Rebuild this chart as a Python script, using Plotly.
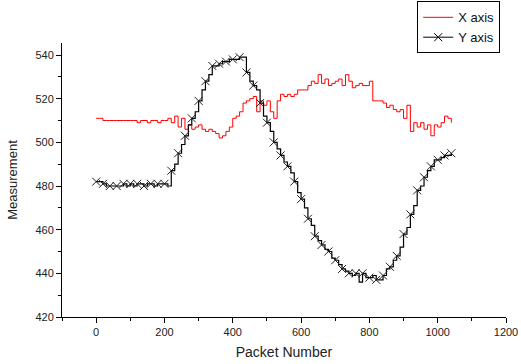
import plotly.graph_objects as go

packets = list(range(0, 1050, 10))

x_axis = [511, 511, 510, 510, 510, 510, 510, 510, 510, 510,
          510, 510, 509, 510, 510, 509, 510, 510, 509, 510,
          510, 511, 509, 512, 507, 511, 506, 508, 506, 507,
          508, 506, 505, 506, 505, 504, 502, 503, 505, 507,
          511, 512, 514, 518, 519, 520, 521, 514, 519, 517,
          519, 514, 511, 519, 522, 521, 522, 521, 522, 524,
          524, 524, 526, 528, 527, 531, 527, 529, 526, 527,
          528, 529, 526, 531, 528, 525, 526, 527, 526, 526,
          528, 519, 519, 519, 518, 516, 517, 515, 514, 515,
          511, 517, 505, 509, 507, 509, 506, 508, 503, 508,
          507, 509, 512, 511, 509]

y_axis = [482, 482, 481, 480, 480, 480, 480, 480, 481, 480,
          481, 480, 481, 481, 480, 481, 481, 480, 481, 481,
          481, 480, 487, 490, 495, 499, 503, 508, 511, 514,
          519, 524, 528, 531, 535, 535, 536, 537, 537, 538,
          538, 538, 539, 539, 532, 528, 526, 524, 518, 512,
          509, 505, 500, 497, 494, 491, 489, 486, 482, 477,
          474, 470, 465, 462, 457, 455, 453, 451, 450, 447,
          446, 444, 442, 441, 440, 439, 440, 436, 440, 438,
          438, 439, 437, 437, 439, 442, 443, 446, 448, 452,
          458, 461, 467, 471, 478, 480, 484, 487, 489, 492,
          492, 493, 494, 494, 495]

x_tick_vals = [0, 200, 400, 600, 800, 1000, 1200]
y_tick_vals = [420, 440, 460, 480, 500, 520, 540]

FONT = "Arial, Liberation Sans, sans-serif"

fig = go.Figure()

fig.add_trace(go.Scatter(
    x=packets, y=x_axis, mode="lines", line=dict(color="#ff0000", width=1, shape="hv"),
    name="X axis", showlegend=True))

fig.add_trace(go.Scatter(
    x=packets, y=y_axis, mode="lines", line=dict(color="black", width=1.2, shape="hv"),
    name="Y axis", showlegend=False))

mk_x = packets[::2]
mk_y = y_axis[::2]
fig.add_trace(go.Scatter(
    x=mk_x, y=mk_y, mode="markers",
    marker=dict(symbol="x-thin", size=8, line=dict(color="#222", width=1)),
    showlegend=False, name="Y axis"))

fig.add_trace(go.Scatter(
    x=[None], y=[None], mode="lines+markers", name="Y axis",
    line=dict(color="black", width=1),
    marker=dict(symbol="x-thin", size=8, line=dict(color="black", width=1))))

axis_common = dict(
    showline=True, linecolor="black", linewidth=1, mirror=False,
    ticks="outside", ticklen=5, tickwidth=1, tickcolor="black",
    showgrid=False, zeroline=False, automargin=False,
    tickfont=dict(family=FONT, size=11, color="#222"),
)

fig.update_xaxes(
    range=[-100, 1200], tickvals=x_tick_vals, ticktext=[str(v) for v in x_tick_vals],
    minor=dict(dtick=100, tick0=0, ticks="outside", ticklen=3, tickcolor="black"),
    title=dict(text="Packet Number", font=dict(family=FONT, size=14, color="#222"), standoff=9),
    **axis_common)
fig.update_yaxes(
    range=[420, 545.5], tickvals=y_tick_vals, ticktext=[str(v) for v in y_tick_vals],
    minor=dict(dtick=10, tick0=0, ticks="outside", ticklen=3, tickcolor="black"),
    title=dict(text="Measurement", font=dict(family=FONT, size=13, color="#222"), standoff=14),
    **axis_common)

fig.update_layout(
    width=521, height=364,
    margin=dict(l=62, r=15, t=43, b=47, autoexpand=False),
    plot_bgcolor="white", paper_bgcolor="white",
    font=dict(family=FONT, color="#222"),
    legend=dict(
        x=0.8, y=1.152, xanchor="left", yanchor="top",
        bordercolor="black", borderwidth=1, bgcolor="white",
        font=dict(family=FONT, size=13, color="#111"),
        tracegroupgap=0, itemwidth=30,
    ),
)

# remove the page's default body margin so the figure sits at the window origin
fig.write_html(
    "out.html",
    config={"displayModeBar": False},
    post_script="document.body.style.margin='0';document.body.style.overflow='hidden';",
)
